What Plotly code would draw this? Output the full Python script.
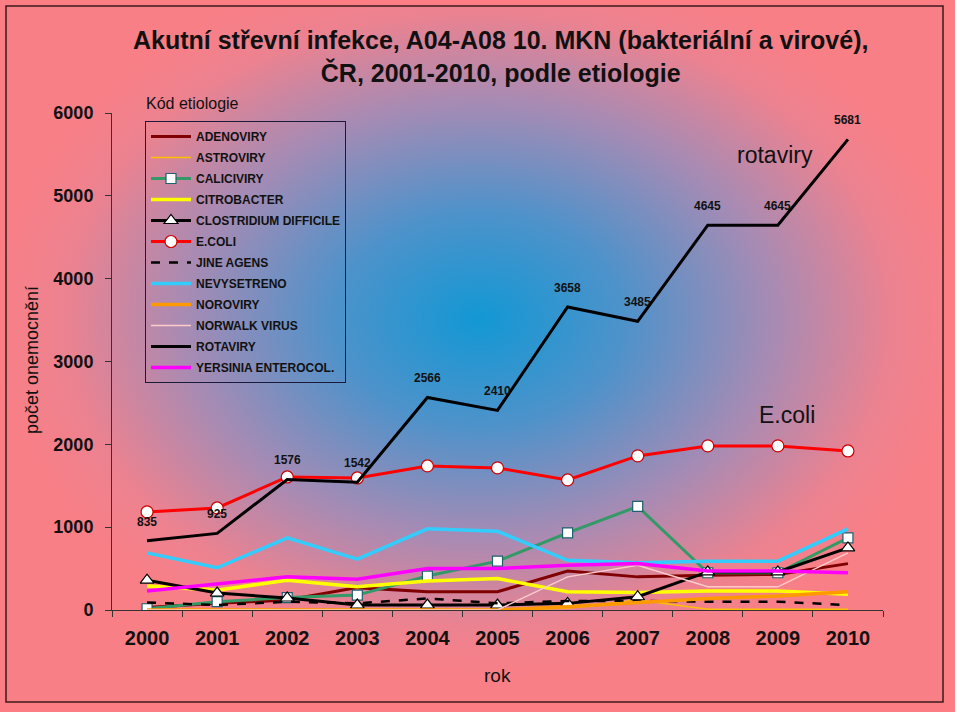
import base64
import plotly.graph_objects as go

# Roky a hodnoty podle etiologie
roky = ["2000", "2001", "2002", "2003", "2004", "2005", "2006", "2007", "2008", "2009", "2010"]

adenoviry = [30, 80, 120, 270, 220, 220, 470, 400, 420, 430, 560]
astroviry = [5, 5, 5, 5, 5, 5, 20, 120, 10, 10, 10]
caliciviry = [15, 100, 150, 180, 410, 590, 930, 1250, 450, 450, 870]
citrobacter = [290, 240, 360, 280, 350, 380, 220, 210, 230, 230, 190]
clostridium = [360, 205, 145, 60, 60, 60, 80, 160, 460, 460, 750]
ecoli = [1184, 1232, 1606, 1594, 1739, 1715, 1570, 1860, 1981, 1981, 1920]
jine_agens = [90, 60, 100, 80, 140, 80, 110, 110, 100, 100, 60]
nevysetreno = [690, 510, 870, 615, 980, 950, 600, 570, 590, 590, 980]
noroviry = [0, 0, 0, 0, 0, 0, 40, 90, 140, 170, 220]
norwalk = [0, 0, 0, 0, 0, 0, 400, 540, 280, 280, 690]
rotaviry = [835, 925, 1576, 1542, 2566, 2410, 3658, 3485, 4645, 4645, 5681]
yersinia = [230, 310, 400, 370, 500, 500, 540, 560, 470, 470, 450]

# pozice plochy grafu v pixelech (pro převod do paper souřadnic)
L, R, T, B = 112, 883, 113, 610
W, H = R - L, B - T

def px(x):
    return (x - L) / W

def py(y):
    return (B - y) / H

# radiální přechod pozadí jako SVG obrázek
svg = (
    "<svg xmlns='http://www.w3.org/2000/svg' width='940' height='700' preserveAspectRatio='none'>"
    "<defs><radialGradient id='g' cx='0.505' cy='0.45' r='0.52'>"
    "<stop offset='0' stop-color='#1298d4'/>"
    "<stop offset='0.3' stop-color='#4f92ca'/>"
    "<stop offset='0.6' stop-color='#a68bb4'/>"
    "<stop offset='0.85' stop-color='#ec8290'/>"
    "<stop offset='1' stop-color='#f97f86'/>"
    "</radialGradient></defs>"
    "<rect width='940' height='700' fill='url(#g)'/></svg>"
)
svg_uri = "data:image/svg+xml;base64," + base64.b64encode(svg.encode()).decode()

fig = go.Figure()

def add_line(name, values, color, width, dash="solid", marker=None):
    mode = "lines+markers" if marker else "lines"
    fig.add_trace(go.Scatter(
        x=roky, y=values, name=name, mode=mode, legendgroup=name,
        line=dict(color=color, width=width, dash=dash),
        marker=marker,
    ))

add_line("ADENOVIRY", adenoviry, "#800000", 3)
add_line("ASTROVIRY", astroviry, "#ffc000", 1.5)
add_line("CALICIVIRY", caliciviry, "#339966", 3,
         marker=dict(symbol="square", size=10, color="white", line=dict(color="#1f5f6f", width=1.2)))
add_line("CITROBACTER", citrobacter, "#ffff00", 3.5)
add_line("CLOSTRIDIUM DIFFICILE", clostridium, "#000000", 3,
         marker=dict(symbol="triangle-up", size=12, color="white", line=dict(color="#000000", width=1.2)))
add_line("E.COLI", ecoli, "#ff0000", 3,
         marker=dict(symbol="circle", size=12, color="white", line=dict(color="#cc0000", width=1.2)))
add_line("JINE AGENS", jine_agens, "#000000", 2.5, dash="dash")
add_line("NEVYSETRENO", nevysetreno, "#33ccff", 3.5)
add_line("NOROVIRY", noroviry, "#ff9900", 3.5)
add_line("NORWALK VIRUS", norwalk, "#ffcccc", 1.5)
add_line("ROTAVIRY", rotaviry, "#000000", 3)
add_line("YERSINIA ENTEROCOL.", yersinia, "#ff00ff", 3.5)

# popisky hodnot rotavirů (x jako pořadí kategorie)
popisky = [
    dict(x=i, y=v, xref="x", yref="y", text=str(v), showarrow=False, yshift=19,
         xanchor="center", yanchor="middle",
         font=dict(size=12, weight="bold", color="#111111"))
    for i, v in enumerate(rotaviry)
]

fig.update_layout(
    width=960, height=716,
    margin=dict(l=L, r=960 - R, t=T, b=716 - B),
    paper_bgcolor="#fc7e84",
    plot_bgcolor="rgba(0,0,0,0)",
    font=dict(family="Liberation Sans, Arial", color="#111111"),
    showlegend=True,
    legend=dict(
        x=px(145), y=py(121), xanchor="left", yanchor="top",
        bgcolor="rgba(0,0,0,0)", bordercolor="#1a1a3a", borderwidth=1,
        font=dict(size=12, weight="bold", color="#111111"),
        itemwidth=40, tracegroupgap=2, traceorder="grouped",
    ),
    images=[dict(
        source=svg_uri, xref="paper", yref="paper",
        x=px(6), y=py(6), sizex=px(943) - px(6), sizey=py(6) - py(702),
        xanchor="left", yanchor="top", sizing="stretch", layer="below",
    )],
    shapes=[
        dict(type="rect", xref="paper", yref="paper",
             x0=px(6), x1=px(943), y0=py(702), y1=py(6),
             line=dict(color="#3a1a1a", width=1.5), layer="below"),
        dict(type="rect", xref="paper", yref="paper",
             x0=px(955), x1=px(965), y0=py(720), y1=py(-5),
             fillcolor="white", line=dict(width=0), layer="below"),
        dict(type="rect", xref="paper", yref="paper",
             x0=px(-5), x1=px(965), y0=py(720), y1=py(712),
             fillcolor="white", line=dict(width=0), layer="below"),
    ],
    annotations=popisky + [
        dict(text="Akutní střevní infekce, A04-A08 10. MKN (bakteriální a virové),<br>ČR, 2001-2010, podle etiologie",
             xref="paper", yref="paper", x=px(500), y=py(57), showarrow=False,
             xanchor="center", yanchor="middle",
             font=dict(size=25, weight="bold")),
        dict(text="Kód etiologie", xref="paper", yref="paper", x=px(144), y=py(103),
             showarrow=False, xanchor="left", yanchor="middle", font=dict(size=16)),
        dict(text="rotaviry", xref="paper", yref="paper", x=px(775), y=py(155),
             showarrow=False, xanchor="center", yanchor="middle", font=dict(size=23)),
        dict(text="E.coli", xref="paper", yref="paper", x=px(787), y=py(415),
             showarrow=False, xanchor="center", yanchor="middle", font=dict(size=23)),
        dict(text="rok", xref="paper", yref="paper", x=px(497), y=py(675),
             showarrow=False, xanchor="center", yanchor="middle", font=dict(size=19)),
        dict(text="počet onemocnění", xref="paper", yref="paper", x=px(32), y=py(360),
             showarrow=False, xanchor="center", yanchor="middle", textangle=-90,
             font=dict(size=18)),
    ],
)

fig.update_xaxes(
    type="category", range=[-0.5, 10.5], tickson="boundaries",
    ticks="outside", ticklen=6, tickcolor="#333333",
    showline=True, linecolor="#333333", linewidth=1, showgrid=False,
    ticklabelstandoff=10,
    tickfont=dict(size=20, weight="bold"),
)
fig.update_yaxes(
    range=[0, 6000], dtick=1000, ticks="outside", ticklen=6, tickcolor="#333333",
    showline=True, linecolor="#333333", linewidth=1, showgrid=False, zeroline=False,
    ticklabelstandoff=8,
    tickfont=dict(size=18, weight="bold"),
)

fig.write_html("out.html", config={"displayModeBar": False},
               post_script="document.body.style.margin='0';")
